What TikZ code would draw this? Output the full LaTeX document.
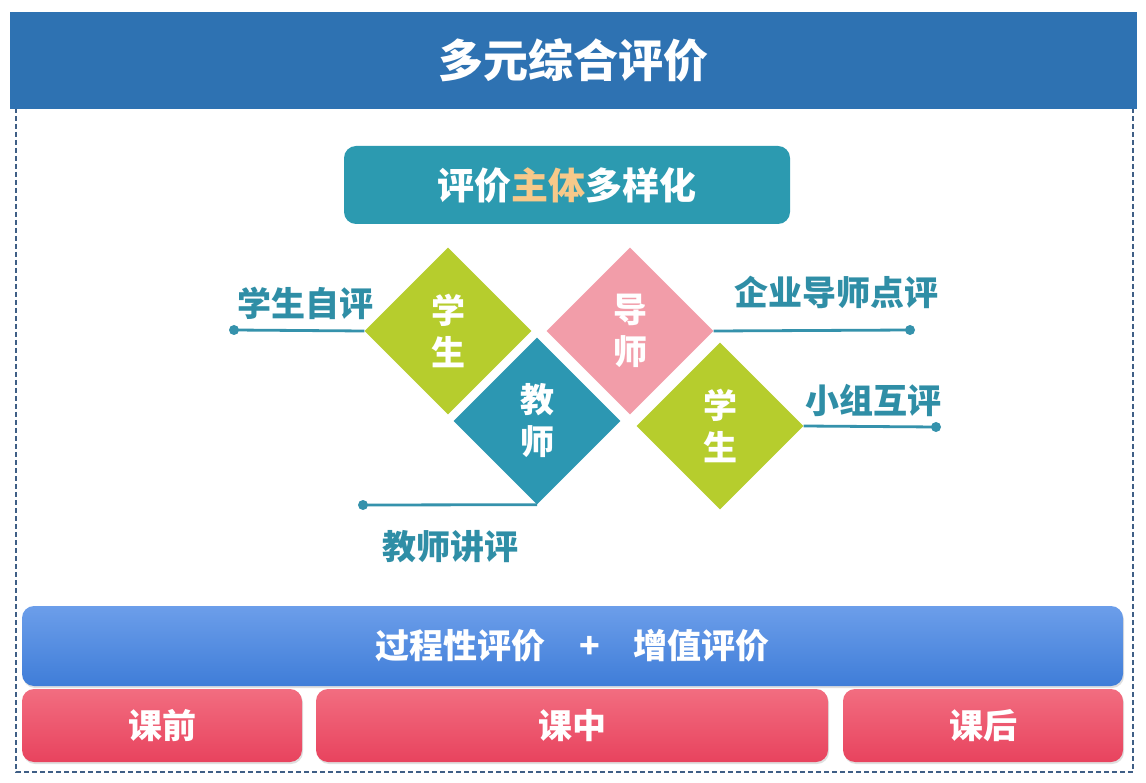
\documentclass[tikz,border=0pt]{standalone}
\usepackage{fontspec}
\setmainfont{Noto Sans CJK SC}
\usetikzlibrary{shapes.geometric,shadows}
\definecolor{hdrblue}{HTML}{2E72B2}
\definecolor{tealbox}{HTML}{2C9AB0}
\definecolor{peach}{HTML}{F7C98A}
\definecolor{lime}{HTML}{B6CD2D}
\definecolor{tealdia}{HTML}{2C97B2}
\definecolor{pinkdia}{HTML}{F29DA9}
\definecolor{labteal}{HTML}{2F8EA6}
\definecolor{linecol}{HTML}{3592AC}
\definecolor{dashcol}{HTML}{3F5F86}
\definecolor{bluetop}{HTML}{6C9EEA}
\definecolor{bluebot}{HTML}{3F7DD8}
\definecolor{redtop}{HTML}{F26D80}
\definecolor{redbot}{HTML}{E8435E}
\tikzset{
  hdrbox/.style={fill=hdrblue, text=white, minimum width=1127pt, minimum height=97pt, inner sep=0pt, font=\fontsize{45}{50}\selectfont\bfseries},
  titlebox/.style={fill=tealbox, text=white, rounded corners=12pt, minimum width=446pt, minimum height=78pt, inner sep=0pt, font=\fontsize{37}{42}\selectfont\bfseries},
  dia/.style={shape=diamond, aspect=1, minimum size=167pt, inner sep=0pt, text=white, align=center, font=\fontsize{34}{42}\selectfont\bfseries},
  lab/.style={text=labteal, inner sep=0pt, font=\fontsize{34}{40}\selectfont\bfseries},
  conn/.style={draw=linecol, line width=2.8pt},
  dot/.style={fill=linecol},
  bluebar/.style={rounded corners=12pt, top color=bluetop, bottom color=bluebot, minimum width=1101pt, minimum height=80pt, inner sep=0pt, text=white, font=\fontsize{34}{40}\selectfont\bfseries, drop shadow={opacity=0.25, shadow xshift=1pt, shadow yshift=-2pt}},
  redbox/.style={rounded corners=12pt, top color=redtop, bottom color=redbot, minimum height=73pt, inner sep=0pt, text=white, font=\fontsize{34}{40}\selectfont\bfseries, drop shadow={opacity=0.25, shadow xshift=1pt, shadow yshift=-2pt}},
  frame/.style={draw=dashcol, line width=2.2pt, dash pattern=on 5pt off 3pt}
}
\begin{document}
\begin{tikzpicture}[x=1pt,y=-1pt]
\useasboundingbox (0,0) rectangle (1146,783);
\fill[white] (0,0) rectangle (1146,783);
% dashed frame
\draw[frame] (16,108) rectangle (1133,772);
% header
\node[hdrbox] (hdr) at (573.5,60.5) {多元综合评价};
% subtitle
\node[titlebox] (sub) at (567,185) {评价\textcolor{peach}{主体}多样化};
% diamonds
\node[dia, fill=lime] (stu1) at (448,331) {学\\生};
\node[dia, fill=tealdia] (tea) at (537,421) {教\\师};
\node[dia, fill=pinkdia] (men) at (630,331) {导\\师};
\node[dia, fill=lime] (stu2) at (720,426) {学\\生};
% endpoints
\coordinate (e1) at (234,330);
\coordinate (e2) at (363,505);
\coordinate (e3) at (910,330);
\coordinate (e4) at (936,427);
\draw[conn] (stu1.west) -- (e1);
\draw[conn] (tea.south) -- (e2);
\draw[conn] (men.east) -- (e3);
\draw[conn] (stu2.east) -- (e4);
\fill[dot] (e1) circle[radius=5pt];
\fill[dot] (e2) circle[radius=5pt];
\fill[dot] (e3) circle[radius=5pt];
\fill[dot] (e4) circle[radius=5pt];
% labels
\node[lab] (l1) at (305,303) {学生自评};
\node[lab] (l2) at (450,547) {教师讲评};
\node[lab] (l3) at (836,292) {企业导师点评};
\node[lab] (l4) at (873,400) {小组互评};
% bottom bars
\node[bluebar] (bar) at (572.5,646) {过程性评价\hspace{34pt}+\hspace{34pt}增值评价};
\node[redbox, minimum width=280pt] (pre) at (162,725.5) {课前};
\node[redbox, minimum width=512pt] (mid) at (572,725.5) {课中};
\node[redbox, minimum width=280pt] (post) at (983,725.5) {课后};
\end{tikzpicture}
\end{document}
